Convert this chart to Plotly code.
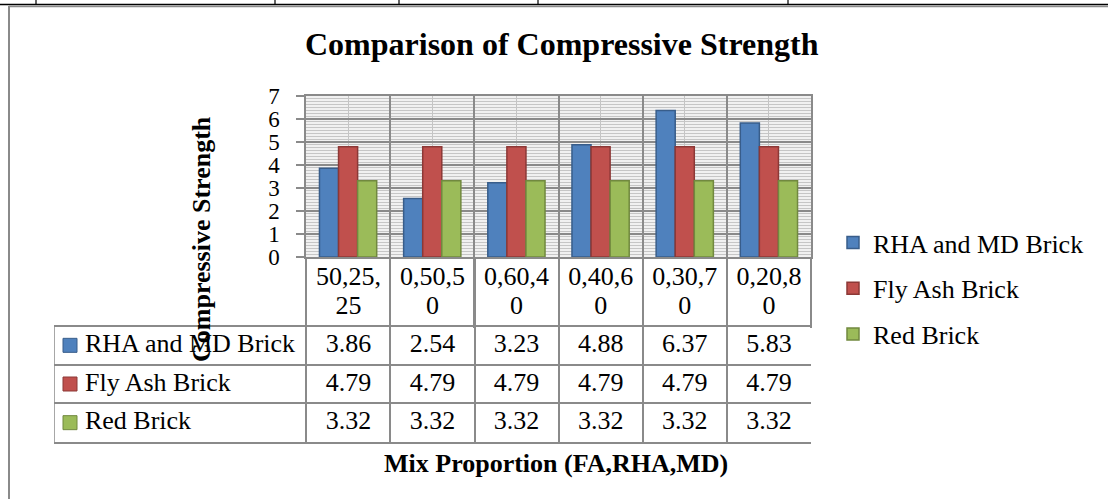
import plotly.graph_objects as go

W, H = 1108, 499

categories = ["50,25,25", "0,50,50", "0,60,40", "0,40,60", "0,30,70", "0,20,80"]
series_names = ["RHA and MD Brick", "Fly Ash Brick", "Red Brick"]
rha_md = [3.86, 2.54, 3.23, 4.88, 6.37, 5.83]
fly_ash = [4.79, 4.79, 4.79, 4.79, 4.79, 4.79]
red_brick = [3.32, 3.32, 3.32, 3.32, 3.32, 3.32]
y_ticks = [0, 1, 2, 3, 4, 5, 6, 7]

fills = ["#4F81BD", "#C0504D", "#9BBB59"]
borders = ["#385D8A", "#8C3836", "#71893F"]
FONT = "Liberation Serif"
GRID = "#8a8a8a"


def px(x):
    return x / W


def py(y):
    return 1 - y / H


n = len(categories)
x_pos = list(range(n))
series = [rha_md, fly_ash, red_brick]
col_bounds = [i - 0.5 for i in range(n + 1)]

# table geometry in x2/y2 units (column = 1 unit, row = 1 unit)
ROW_PX = (442 - 326) / 3
HEAD_UNITS = (326 - 257) / ROW_PX
y2_top = -0.5 - HEAD_UNITS
line1_y = y2_top + (278.5 - 257) / ROW_PX
line2_y = y2_top + (307.5 - 257) / ROW_PX
COL_PX = (811 - 54) / (n + 3)
key_x = -3.5 + (70 - 54) / COL_PX

fig = go.Figure()
for i, (name, vals) in enumerate(zip(series_names, series)):
    fig.add_trace(go.Bar(
        x=x_pos, y=vals, name=name, legendgroup=name,
        marker=dict(color=fills[i], line=dict(color=borders[i], width=1.5)),
        xaxis="x", yaxis="y",
    ))

txt_font = dict(family=FONT, size=26, color="black")

# header row: category labels wrapped in two lines
fig.add_trace(go.Scatter(
    x=x_pos + x_pos, y=[line1_y] * n + [line2_y] * n,
    text=[c[:6] for c in categories] + [c[6:] for c in categories],
    mode="text", textposition="middle center", textfont=txt_font,
    xaxis="x2", yaxis="y2", showlegend=False, hoverinfo="skip", cliponaxis=False,
))
# table rows: legend key + series name, then values
for r, (name, vals) in enumerate(zip(series_names, series)):
    fig.add_trace(go.Scatter(
        x=[key_x], y=[r], text=["\u2009" + name], mode="markers+text", textposition="middle right",
        marker=dict(symbol="square", size=14, color=fills[r], line=dict(color=borders[r], width=1)),
        textfont=txt_font, xaxis="x2", yaxis="y2", showlegend=False, hoverinfo="skip", cliponaxis=False,
    ))
    fig.add_trace(go.Scatter(
        x=x_pos, y=[r] * n, text=[f"{v:.2f}" for v in vals], mode="text",
        textposition="middle center", textfont=txt_font,
        xaxis="x2", yaxis="y2", showlegend=False, hoverinfo="skip", cliponaxis=False,
    ))

fig.update_layout(
    width=W, height=H,
    margin=dict(l=0, r=0, t=0, b=0, autoexpand=False),
    paper_bgcolor="white",
    plot_bgcolor="white",
    barmode="group", bargap=0.32, bargroupgap=0,
    font=dict(family=FONT, size=24, color="black"),
    showlegend=True,
    legend=dict(
        x=px(833), y=py(219), xanchor="left", yanchor="top",
        font=dict(family=FONT, size=26, color="black"),
        traceorder="grouped", tracegroupgap=9,
        bgcolor="rgba(0,0,0,0)",
    ),
    xaxis=dict(
        domain=[px(306), px(811)], anchor="y",
        range=[-0.5, n - 0.5],
        tick0=-0.5, dtick=1,
        showticklabels=False, ticks="outside", ticklen=69, tickcolor=GRID, tickwidth=1.5,
        showgrid=True, gridcolor=GRID, gridwidth=1.5,
        showline=True, linecolor=GRID, linewidth=1.5, mirror=True,
        zeroline=False,
        minor=dict(tick0=-0.5, dtick=0.5, showgrid=True, gridcolor="#c4c4c4", gridwidth=1, ticks=""),
        fixedrange=True,
    ),
    yaxis=dict(
        domain=[py(257), py(96)], anchor="x",
        range=[0, 7],
        tickvals=y_ticks,
        ticktext=[str(t) for t in y_ticks],
        ticks="outside", ticklen=8, tickcolor=GRID, tickwidth=1.5,
        ticklabelstandoff=12,
        tickfont=dict(family=FONT, size=23, color="black"),
        showgrid=True, gridcolor=GRID, gridwidth=1.5,
        showline=True, linecolor=GRID, linewidth=1.5, mirror=True,
        zeroline=False,
        minor=dict(dtick=0.125, showgrid=True, gridcolor="#c6c6c6", gridwidth=1, ticks=""),
        fixedrange=True,
    ),
    xaxis2=dict(
        domain=[px(54), px(811)], anchor="y2",
        range=[-3.5, n - 0.5],
        tickmode="array", tickvals=col_bounds,
        showticklabels=False, ticks="",
        showgrid=True, gridcolor=GRID, gridwidth=1.5,
        showline=True, linecolor=GRID, linewidth=1.5, mirror=False,
        zeroline=False, fixedrange=True,
    ),
    yaxis2=dict(
        domain=[py(442), py(257)], anchor="x2",
        range=[len(series) - 0.5, y2_top],
        tickvals=[-0.5 + k for k in range(len(series))],
        showticklabels=False, ticks="",
        showgrid=True, gridcolor=GRID, gridwidth=1.5,
        showline=False, zeroline=False, fixedrange=True,
    ),
    annotations=[
        dict(text="<b>Comparison of Compressive Strength</b>", x=px(562), y=py(44),
             xref="paper", yref="paper", xanchor="center", yanchor="middle",
             showarrow=False, font=dict(family=FONT, size=32, color="black")),
        dict(text="<b>Mix Proportion (FA,RHA,MD)</b>", x=px(556), y=py(463),
             xref="paper", yref="paper", xanchor="center", yanchor="middle",
             showarrow=False, font=dict(family=FONT, size=26, color="black")),
        dict(text="<b>Compressive Strength</b>", x=px(202), y=py(239), textangle=-90,
             xref="paper", yref="paper", xanchor="center", yanchor="middle",
             showarrow=False, font=dict(family=FONT, size=26, color="black")),
    ],
    shapes=[
        # hatched-look plot area background
        dict(type="rect", xref="x domain", yref="y domain", x0=0, x1=1, y0=0, y1=1,
             fillcolor="#f1f1f1", line=dict(width=0), layer="below"),
        # table left border (rows only)
        dict(type="line", xref="x2", yref="y2", x0=-3.5, x1=-3.5, y0=-0.5, y1=len(series) - 0.5,
             line=dict(color=GRID, width=1.5)),
        # document frame
        dict(type="line", xref="paper", yref="paper", x0=px(9), x1=px(9), y0=py(6), y1=0,
             line=dict(color="#8a8a8a", width=2)),
        dict(type="line", xref="paper", yref="paper", x0=px(9), x1=1, y0=py(6.5), y1=py(6.5),
             line=dict(color="#8a8a8a", width=1.5)),
        dict(type="line", xref="paper", yref="paper", x0=0, x1=1, y0=py(4.5), y1=py(4.5),
             line=dict(color="black", width=1.5)),
    ] + [
        dict(type="line", xref="paper", yref="paper", x0=px(xv), x1=px(xv), y0=1, y1=py(4.5),
             line=dict(color="black", width=1.2))
        for xv in [36, 275, 399, 538, 788]
    ],
)

fig.write_html("out.html", config={"displayModeBar": False},
               post_script="document.body.style.margin='0';document.body.style.overflow='hidden';")
